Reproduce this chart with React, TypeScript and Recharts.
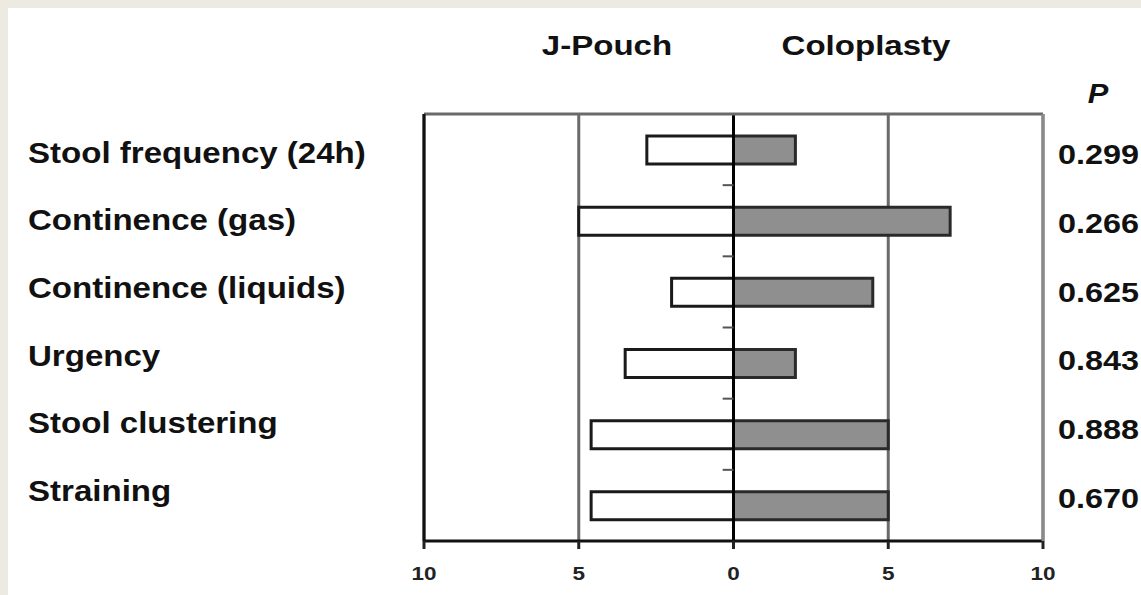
import React from 'react';
import { BarChart, Bar, XAxis, YAxis, CartesianGrid, ReferenceLine } from 'recharts';

if (typeof document !== 'undefined') {
  document.documentElement.style.overflow = 'hidden';
  document.body.style.overflow = 'hidden';
  document.body.style.margin = '8px 0 0 8px';
  document.body.style.background = '#edeae1';
}

const categories = [
  'Stool frequency (24h)',
  'Continence (gas)',
  'Continence (liquids)',
  'Urgency',
  'Stool clustering',
  'Straining',
];
const jPouch = [2.8, 5, 2, 3.5, 4.6, 4.6];
const coloplasty = [2, 7, 4.5, 2, 5, 5];
const pValues = ['0.299', '0.266', '0.625', '0.843', '0.888', '0.670'];
const xTicks = [-10, -5, 0, 5, 10];
const seriesNames = ['J-Pouch', 'Coloplasty'];
const pHeader = 'P';

const data = categories.map((name, i) => ({
  name,
  jPouch: -jPouch[i],
  coloplasty: coloplasty[i],
  p: pValues[i],
}));

const FONT = '"Liberation Sans", Arial, Helvetica, sans-serif';

const LeftTick = (props: any) => {
  const { y, payload } = props;
  const i = categories.indexOf(payload.value);
  const cy = y + 2.5 - 3.5 * i;
  return (
    <text
      transform={`translate(20,${cy + 10.5}) scale(1.14,1)`}
      fontFamily={FONT}
      fontWeight="bold"
      fontSize={29}
      fill="#111"
    >
      {payload.value}
    </text>
  );
};

const RightTick = (props: any) => {
  const { y, payload } = props;
  const i = categories.indexOf(payload.value);
  const cy = y + 4.5 - 2.3 * i;
  return (
    <text
      transform={`translate(1050,${cy + 9.7}) scale(1.2,1)`}
      fontFamily={FONT}
      fontWeight="bold"
      fontSize={27}
      fill="#111"
    >
      {pValues[i]}
    </text>
  );
};

const XTick = (props: any) => {
  const { x, payload } = props;
  return (
    <text
      transform={`translate(${x},572) scale(1.25,1)`}
      textAnchor="middle"
      fontFamily={FONT}
      fontWeight="bold"
      fontSize={18}
      fill="#222"
    >
      {Math.abs(payload.value)}
    </text>
  );
};

export default function App() {
  return (
    <div style={{ position: 'relative', width: 1133, height: 587, background: '#ffffff' }}>
      <BarChart
        width={1133}
        height={587}
        layout="vertical"
        data={data}
        stackOffset="sign"
        margin={{ top: 106, right: 0, bottom: 0, left: 0 }}
      >
        <CartesianGrid horizontal={false} vertical stroke="#6a6a6a" strokeWidth={3} />
        <XAxis
          type="number"
          domain={[-10, 10]}
          ticks={xTicks}
          interval={0}
          allowDataOverflow
          height={54}
          axisLine={{ stroke: '#111', strokeWidth: 3 }}
          tickLine={{ stroke: '#222', strokeWidth: 3 }}
          tickSize={8}
          tick={<XTick />}
        />
        <YAxis
          type="category"
          dataKey="name"
          width={416}
          interval={0}
          axisLine={{ stroke: '#111', strokeWidth: 3 }}
          tickLine={false}
          tick={<LeftTick />}
        />
        <YAxis
          yAxisId="p"
          orientation="right"
          type="category"
          dataKey="name"
          width={98}
          interval={0}
          axisLine={{ stroke: '#8a8a8a', strokeWidth: 3 }}
          tickLine={false}
          tick={<RightTick />}
        />
        <Bar
          dataKey="jPouch"
          name={seriesNames[0]}
          stackId="s"
          fill="#ffffff"
          stroke="#1a1a1a"
          strokeWidth={3}
          barSize={28}
          isAnimationActive={false}
        />
        <Bar
          dataKey="coloplasty"
          name={seriesNames[1]}
          stackId="s"
          fill="#8f8f8f"
          stroke="#2a2a2a"
          strokeWidth={3}
          barSize={28}
          isAnimationActive={false}
        />
        <ReferenceLine x={0} stroke="#000" strokeWidth={3} />
        <ReferenceLine y={categories[0]} position="start" stroke="#6a6a6a" strokeWidth={3} />
        {categories.slice(0, -1).map((c) => (
          <ReferenceLine
            key={c}
            position="end"
            segment={[{ x: -0.35, y: c }, { x: 0, y: c }]}
            stroke="#555"
            strokeWidth={2}
          />
        ))}
      </BarChart>
      <svg
        width={1133}
        height={110}
        style={{ position: 'absolute', left: 0, top: 0, pointerEvents: 'none' }}
      >
        <text
          transform="translate(599,47) scale(1.18,1)"
          textAnchor="middle"
          fontFamily={FONT}
          fontWeight="bold"
          fontSize={28}
          fill="#111"
        >
          {seriesNames[0]}
        </text>
        <text
          transform="translate(858,47) scale(1.18,1)"
          textAnchor="middle"
          fontFamily={FONT}
          fontWeight="bold"
          fontSize={28}
          fill="#111"
        >
          {seriesNames[1]}
        </text>
        <text
          transform="translate(1090,95) scale(1.1,1)"
          textAnchor="middle"
          fontFamily={FONT}
          fontWeight="bold"
          fontStyle="italic"
          fontSize={28}
          fill="#111"
        >
          {pHeader}
        </text>
      </svg>
    </div>
  );
}
